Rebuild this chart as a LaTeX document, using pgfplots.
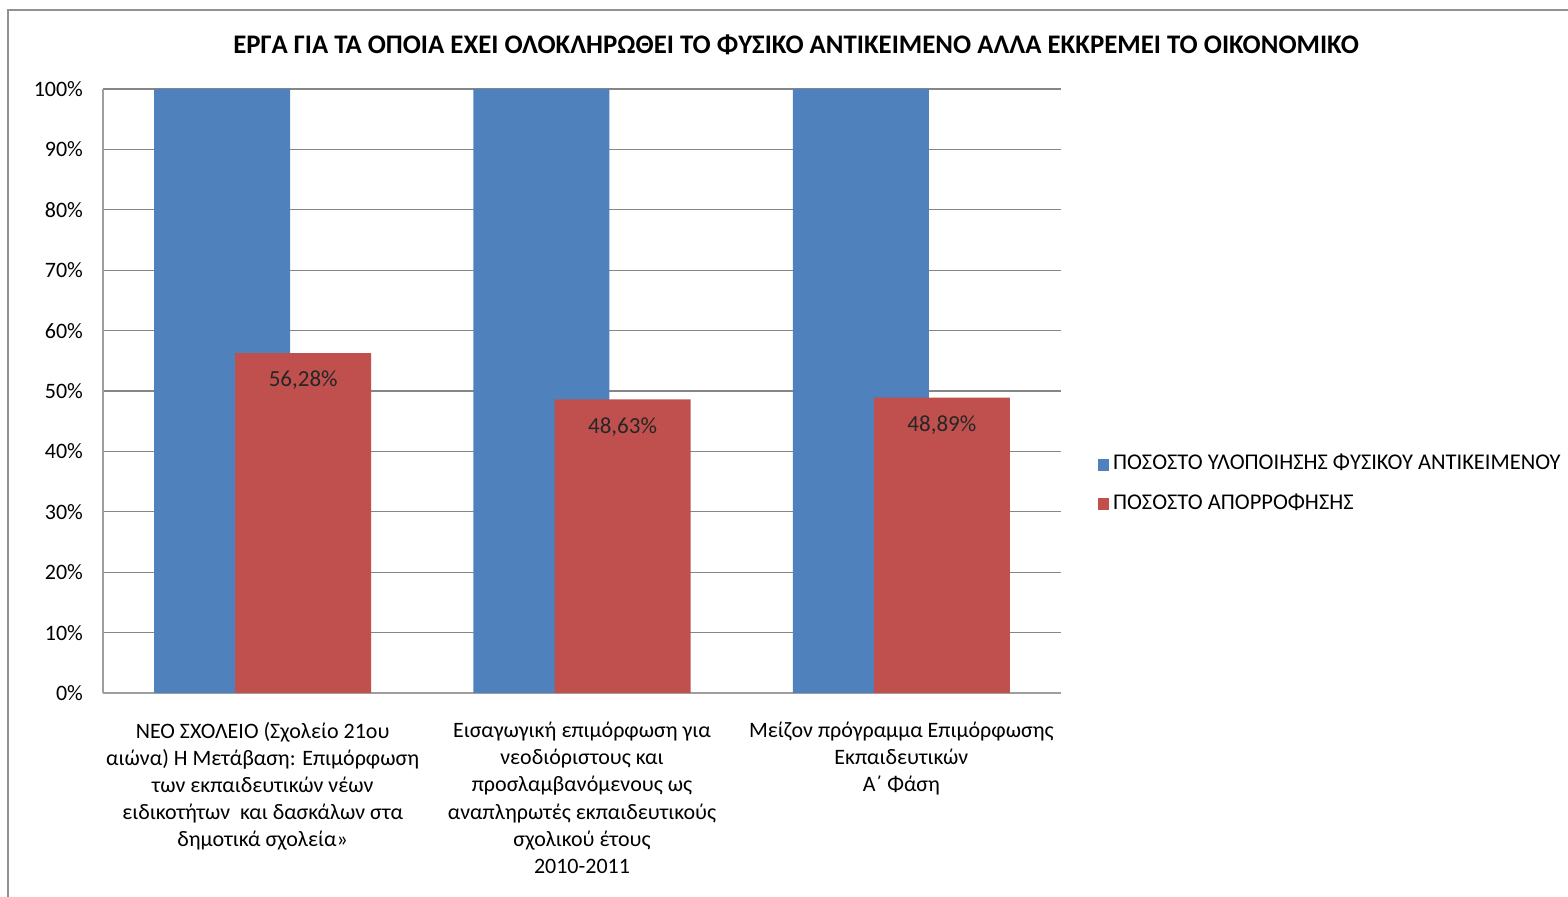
\documentclass[border=0pt]{standalone}
\usepackage{fontspec}
\setmainfont{Carlito}
\usepackage{pgfplots}
\pgfplotsset{compat=1.18}

\definecolor{xlblue}{HTML}{4F81BD}
\definecolor{xlred}{HTML}{C0504D}
\definecolor{xlgrid}{HTML}{868686}

\begin{document}
\begin{tikzpicture}
% page = 1568 x 897 px at 0.5pt per px
\useasboundingbox (0pt,0pt) rectangle (784pt,448.5pt);
\begin{scope}
\clip (0pt,0pt) rectangle (784pt,448.5pt);
\draw[xlgrid!90,line width=1pt] (4pt,-5pt) rectangle (800pt,443.5pt);
\end{scope}
\node[font=\bfseries\fontsize{13.4}{16}\selectfont] at (398pt,426pt)
  {ΕΡΓΑ ΓΙΑ ΤΑ ΟΠΟΙΑ ΕΧΕΙ ΟΛΟΚΛΗΡΩΘΕΙ ΤΟ ΦΥΣΙΚΟ ΑΝΤΙΚΕΙΜΕΝΟ ΑΛΛΑ ΕΚΚΡΕΜΕΙ ΤΟ ΟΙΚΟΝΟΜΙΚΟ};
\begin{axis}[
    at={(51.5pt,102pt)}, anchor=south west,
    scale only axis,
    width=479pt, height=302pt,
    ybar, bar width=0.426,
    xmin=-0.5, xmax=2.5,
    ymin=0, ymax=100,
    ytick={0,10,...,100},
    yticklabel={\pgfmathprintnumber{\tick}\%},
    /pgf/number format/assume math mode=true,
    y tick label style={font=\fontsize{11}{13}\selectfont, xshift=-6.5pt},
    xtick={0,1,2},
    xticklabels={
      {ΝΕΟ ΣΧΟΛΕΙΟ (Σχολείο 21ου\\αιώνα) Η Μετάβαση: Επιμόρφωση\\των εκπαιδευτικών νέων\\ειδικοτήτων \ και δασκάλων στα\\δημοτικά σχολεία»},
      {Εισαγωγική επιμόρφωση για\\νεοδιόριστους και\\προσλαμβανόμενους ως\\αναπληρωτές εκπαιδευτικούς\\σχολικού έτους\\2010-2011},
      {Μείζον πρόγραμμα Επιμόρφωσης\\Εκπαιδευτικών\\Α΄ Φάση}},
    x tick label style={font=\fontsize{11}{13.6}\selectfont, align=center, anchor=north, yshift=-11pt},
    major tick length=0pt,
    axis x line*=bottom, axis y line*=left,
    axis line style={xlgrid!80, line width=0.8pt},
    ymajorgrids, grid style={xlgrid, line width=0.6pt},
    legend style={at={(1.032,0.347)}, anchor=west, draw=none,
      font=\fontsize{11.25}{13}\selectfont, row sep=6.5pt,
      legend cell align=left},
    legend image code/.code={\fill[#1] (0.1em,-0.35em) rectangle (0.65em,0.25em);},
]
\addplot[fill=xlblue, draw=none, bar shift=-0.127]
  coordinates {(0,100) (1,100) (2,100)};
\addplot[fill=xlred, draw=none, bar shift=0.127,
  nodes near coords={\pgfmathprintnumber[fixed,precision=2,fixed zerofill,use comma]{\pgfplotspointmeta}\%},
  nodes near coords align={below},
  every node near coord/.append style={font=\fontsize{11.5}{13}\selectfont, text=black!85, yshift=-5.5pt}]
  coordinates {(0,56.28) (1,48.63) (2,48.89)};
\legend{ΠΟΣΟΣΤΟ ΥΛΟΠΟΙΗΣΗΣ ΦΥΣΙΚΟΥ ΑΝΤΙΚΕΙΜΕΝΟΥ, ΠΟΣΟΣΤΟ ΑΠΟΡΡΟΦΗΣΗΣ}
\end{axis}
\end{tikzpicture}
\end{document}
